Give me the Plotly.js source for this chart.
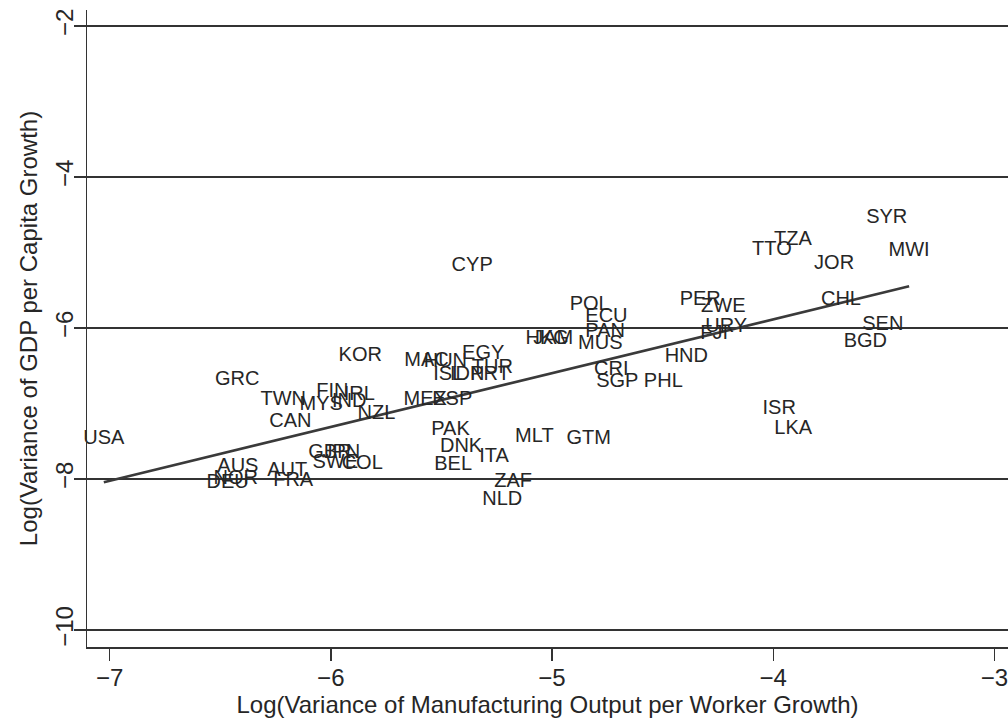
<!DOCTYPE html>
<html>
<head>
<meta charset="utf-8">
<script src="https://cdn.plot.ly/plotly-3.0.1.min.js"></script>
<style>html,body{margin:0;padding:0;background:#fff;}#chart{width:1008px;height:718px;}</style>
</head>
<body>
<div id="chart"></div>
<script>
const countries = ["USA","GRC","TWN","MYS","CAN","AUS","NOR","DEU","AUT","FRA",
  "KOR","FIN","IND","IRL","NZL","GBR","JPN","SWE","COL",
  "MAC","HUN","EGY","TUR","ISL","IDN","PRT","MEX","ESP",
  "PAK","DNK","BEL","ITA","ZAF","NLD","MLT","GTM",
  "CYP","POL","ECU","HKG","JAM","PAN","MUS","CRI","SGP","PHL","HND",
  "PER","ZWE","URY","FJI","TTO","TZA","JOR","SYR","MWI","CHL","SEN","BGD","ISR","LKA"];
const mfgVar = [-7.026,-6.423,-6.215,-6.043,-6.183,-6.420,-6.430,-6.466,-6.197,-6.170,
  -5.867,-5.993,-5.917,-5.871,-5.794,-6.004,-5.952,-5.980,-5.858,
  -5.567,-5.482,-5.311,-5.270,-5.469,-5.383,-5.280,-5.573,-5.451,
  -5.459,-5.411,-5.447,-5.262,-5.176,-5.225,-5.080,-4.834,
  -5.361,-4.830,-4.754,-5.022,-4.995,-4.760,-4.782,-4.732,-4.705,-4.497,-4.393,
  -4.330,-4.226,-4.213,-4.267,-4.006,-3.911,-3.725,-3.487,-3.386,-3.694,-3.505,-3.584,-3.973,-3.910];
const gdpVar = [-7.470,-6.690,-6.955,-7.020,-7.245,-7.840,-7.995,-8.050,-7.895,-8.025,
  -6.370,-6.850,-6.980,-6.890,-7.140,-7.655,-7.655,-7.790,-7.800,
  -6.440,-6.450,-6.345,-6.530,-6.620,-6.620,-6.620,-6.955,-6.955,
  -7.350,-7.575,-7.815,-7.710,-8.040,-8.280,-7.445,-7.470,
  -5.180,-5.695,-5.855,-6.145,-6.145,-6.055,-6.210,-6.555,-6.715,-6.715,-6.385,
  -5.630,-5.720,-5.985,-6.080,-4.965,-4.835,-5.150,-4.545,-4.980,-5.630,-5.960,-6.185,-7.075,-7.340];
const xTicks = [-7,-6,-5,-4,-3];
const yTicks = [-10,-8,-6,-4,-2];

// OLS fit
const n = mfgVar.length;
const mx = mfgVar.reduce((a,b)=>a+b,0)/n, my = gdpVar.reduce((a,b)=>a+b,0)/n;
let sxy=0, sxx=0;
for (let i=0;i<n;i++){ sxy+=(mfgVar[i]-mx)*(gdpVar[i]-my); sxx+=(mfgVar[i]-mx)**2; }
const b = sxy/sxx, a = my - b*mx;
const xmin = Math.min(...mfgVar), xmax = Math.max(...mfgVar);
const fitX = [xmin, xmax], fitY = fitX.map(v=>a+b*v);

const font = "Liberation Sans, Arial, Helvetica, sans-serif";
const ink = "#262626";
const traces = [
  {x: fitX, y: fitY, mode: "lines", line: {color: "#3a3a3a", width: 2.6}, hoverinfo: "skip"},
  {x: mfgVar, y: gdpVar, text: countries, mode: "text", textposition: "middle center",
   textfont: {family: font, size: 20, color: ink}, cliponaxis: false}
];
const minusFmt = v => (v<0 ? "\u2212" + Math.abs(v) : String(v));
const layout = {
  width: 1008, height: 718, showlegend: false,
  paper_bgcolor: "#fff", plot_bgcolor: "#fff",
  margin: {l: 87, r: 0, t: 10, b: 71},
  font: {family: font, color: ink},
  xaxis: {range: [-7.102, -2.939], tickvals: xTicks, ticktext: xTicks.map(minusFmt),
    showgrid: false, zeroline: false, showline: true, linecolor: "#333", linewidth: 1.5,
    ticks: "outside", ticklen: 12, tickcolor: "#333", tickwidth: 1.5,
    tickfont: {size: 24, color: ink}, ticklabelstandoff: -3, ticklabeloverflow: "allow",
    title: {text: "Log(Variance of Manufacturing Output per Worker Growth)", font: {size: 24, color: ink}, standoff: 0}},
  yaxis: {range: [-10.225, -1.788], tickvals: yTicks, ticktext: yTicks.map(minusFmt),
    showgrid: true, gridcolor: "#333", gridwidth: 1.2, zeroline: false,
    showline: true, linecolor: "#333", linewidth: 1.5,
    ticks: "outside", ticklen: 12, tickcolor: "#333", tickwidth: 1.5,
    tickangle: -90, tickfont: {size: 24, color: ink}, ticklabelstandoff: -9, ticklabeloverflow: "allow",
    title: {text: "Log(Variance of GDP per Capita Growth)", font: {size: 24, color: ink}, standoff: 6}}
};
Plotly.newPlot("chart", traces, layout, {displayModeBar: false, staticPlot: true});
</script>
</body>
</html>
